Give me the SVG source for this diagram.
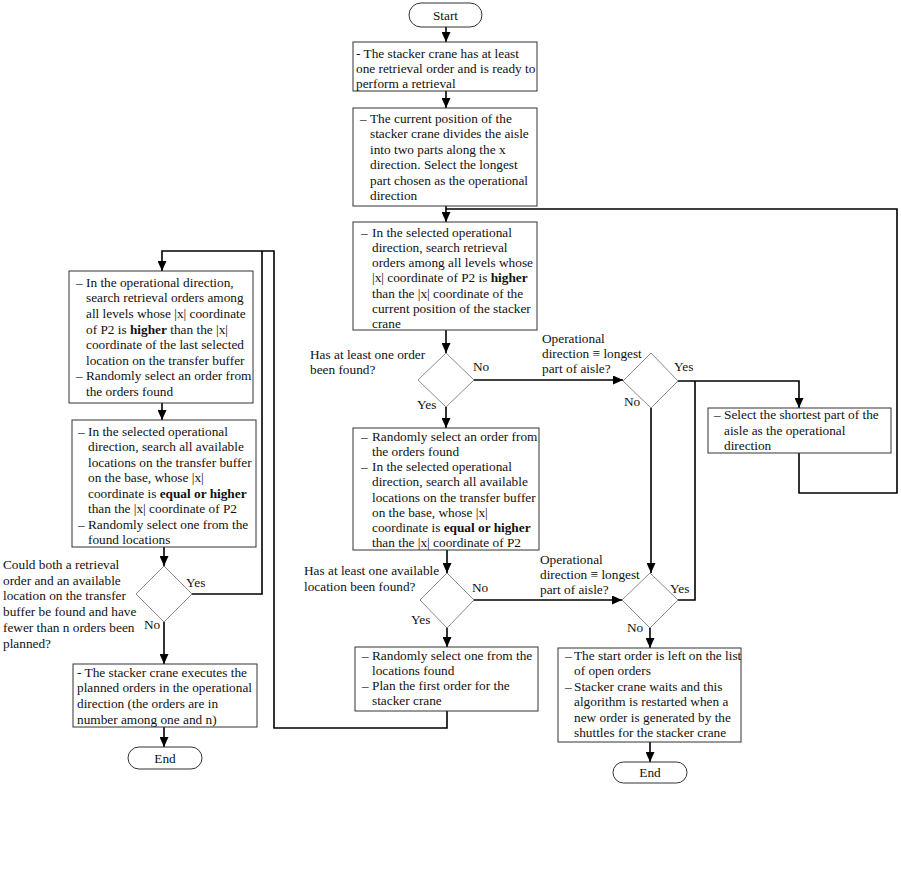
<svg xmlns="http://www.w3.org/2000/svg" width="901" height="887" viewBox="0 0 901 887">
<defs>
<marker id="arr" markerWidth="10" markerHeight="9" refX="10" refY="4.5" orient="auto" markerUnits="userSpaceOnUse">
<path d="M0,0 L10,4.5 L0,9 z" fill="#000"/>
</marker>
</defs>
<style>
text{font-family:"Liberation Serif","Times New Roman",serif;font-size:13.3px;fill:#111}
.box{fill:#fff;stroke:#333;stroke-width:1}
.dia{fill:#fff;stroke:#8a8a8a;stroke-width:1}
.term{fill:#fff;stroke:#333;stroke-width:1}
.c{fill:none;stroke:#000;stroke-width:1.6}
.a{marker-end:url(#arr)}
.mid{text-anchor:middle}
.b{font-weight:bold}
</style>
<rect width="901" height="887" fill="#fff"/>

<g id="connectors">
<path class="c a" d="M446,27 V42"/>
<path class="c a" d="M446,91 V108"/>
<path class="c a" d="M446,206 V222"/>
<path class="c" d="M799,453 V493 H897 V209 H446"/>
<path class="c a" d="M446,330 V353"/>
<path class="c a" d="M474,380 H623"/>
<path class="c a" d="M446,407 V428"/>
<path class="c a" d="M678,381 H799 V408"/>
<path class="c a" d="M651,408 V573"/>
<path class="c a" d="M447,550 V573"/>
<path class="c a" d="M474,600 H622"/>
<path class="c" d="M678,600 H695 V381"/>
<path class="c a" d="M447,628 V647"/>
<path class="c a" d="M650,628 V648"/>
<path class="c a" d="M650,742 V762"/>
<path class="c a" d="M447,711 V728 H274 V251 H162 V271"/>
<path class="c" d="M192,594 H262 V251"/>
<path class="c a" d="M162,403 V420"/>
<path class="c a" d="M164,547 V566"/>
<path class="c a" d="M164,622 V664"/>
<path class="c a" d="M164,727 V747"/>
</g>

<g id="start">
<rect class="term" x="409" y="3" width="73" height="24" rx="12"/>
<text class="mid" x="445.5" y="19.5">Start</text>
</g>

<g id="box1">
<rect class="box" x="353" y="42" width="184" height="49"/>
<text x="356" y="57.5">- The stacker crane has at least</text>
<text x="356" y="72.5">one retrieval order and is ready to</text>
<text x="356" y="87.5">perform a retrieval</text>
</g>

<g id="box2">
<rect class="box" x="353" y="108" width="184" height="98"/>
<text x="360" y="122.5">–</text>
<text x="370" y="122.5">The current position of the</text>
<text x="370" y="138">stacker crane divides the aisle</text>
<text x="370" y="153.5">into two parts along the x</text>
<text x="370" y="169">direction. Select the longest</text>
<text x="370" y="184.5">part chosen as the operational</text>
<text x="370" y="200">direction</text>
</g>

<g id="box3">
<rect class="box" x="353" y="222" width="184" height="108"/>
<text x="361" y="236.5">–</text>
<text x="372" y="236.5">In the selected operational</text>
<text x="372" y="251.8">direction, search retrieval</text>
<text x="372" y="267.1">orders among all levels whose</text>
<text x="372" y="282.4">|x|  coordinate of P2 is <tspan class="b">higher</tspan></text>
<text x="372" y="297.7">than the |x|  coordinate of the</text>
<text x="372" y="313">current position of the stacker</text>
<text x="372" y="328">crane</text>
</g>

<g id="dec1">
<polygon class="dia" points="446,353 474,380 446,407 418,380"/>
<text x="310" y="359">Has at least one order</text>
<text x="310" y="374">been found?</text>
<text x="473" y="371">No</text>
<text x="417" y="409">Yes</text>
</g>

<g id="dec2">
<polygon class="dia" points="651,353 678,381 651,408 623,381"/>
<text x="542" y="343">Operational</text>
<text x="542" y="358">direction ≡ longest</text>
<text x="542" y="373">part of aisle?</text>
<text x="674" y="371">Yes</text>
<text x="624" y="406">No</text>
</g>

<g id="shortest">
<rect class="box" x="708" y="408" width="183" height="45"/>
<text x="714" y="419">–</text>
<text x="724" y="419">Select the shortest part of the</text>
<text x="724" y="434.5">aisle as the operational</text>
<text x="724" y="450">direction</text>
</g>

<g id="box4">
<rect class="box" x="353" y="428" width="186" height="122"/>
<text x="361" y="440.5">–</text>
<text x="372" y="440.5">Randomly select an order from</text>
<text x="372" y="455.8">the orders found</text>
<text x="361" y="471.1">–</text>
<text x="372" y="471.1">In the selected operational</text>
<text x="372" y="486.4">direction, search all available</text>
<text x="372" y="501.7">locations on the transfer buffer</text>
<text x="372" y="517">on the base, whose |x|</text>
<text x="372" y="532.3">coordinate is <tspan class="b">equal or higher</tspan></text>
<text x="372" y="547.3">than the |x|  coordinate of P2</text>
</g>

<g id="dec3">
<polygon class="dia" points="447,573 474,600 447,628 420,600"/>
<text x="304" y="575">Has at least one available</text>
<text x="304" y="591">location been found?</text>
<text x="472" y="592">No</text>
<text x="411" y="624">Yes</text>
</g>

<g id="dec4">
<polygon class="dia" points="650,573 678,600 650,628 622,600"/>
<text x="540" y="564">Operational</text>
<text x="540" y="579">direction ≡ longest</text>
<text x="540" y="594">part of aisle?</text>
<text x="670" y="593">Yes</text>
<text x="627" y="632">No</text>
</g>

<g id="box5">
<rect class="box" x="355" y="647" width="183" height="64"/>
<text x="362" y="659.5">–</text>
<text x="372" y="659.5">Randomly select one from the</text>
<text x="372" y="674.8">locations found</text>
<text x="362" y="690.1">–</text>
<text x="372" y="690.1">Plan the first order for the</text>
<text x="372" y="705.4">stacker crane</text>
</g>

<g id="boxD">
<rect class="box" x="558" y="648" width="183" height="94"/>
<text x="565" y="660">–</text>
<text x="574" y="660">The start order is left on the list</text>
<text x="574" y="675.4">of open orders</text>
<text x="565" y="690.8">–</text>
<text x="574" y="690.8">Stacker crane waits and this</text>
<text x="574" y="706.2">algorithm is restarted when a</text>
<text x="574" y="721.6">new order is generated by the</text>
<text x="574" y="737">shuttles for the stacker crane</text>
</g>

<g id="end2">
<rect class="term" x="613" y="762" width="74" height="21" rx="10.5"/>
<text class="mid" x="650" y="777">End</text>
</g>

<g id="boxA">
<rect class="box" x="69" y="271" width="184" height="132"/>
<text x="76" y="286.7">–</text>
<text x="86" y="286.7">In the operational direction,</text>
<text x="86" y="302.3">search retrieval orders among</text>
<text x="86" y="317.9">all levels whose |x|  coordinate</text>
<text x="86" y="333.5">of P2 is <tspan class="b">higher</tspan> than the |x|</text>
<text x="86" y="349.1">coordinate of the last selected</text>
<text x="86" y="364.7">location on the transfer buffer</text>
<text x="76" y="380.3">–</text>
<text x="86" y="380.3">Randomly select an order from</text>
<text x="86" y="395.9">the orders found</text>
</g>

<g id="boxB">
<rect class="box" x="72" y="420" width="184" height="127"/>
<text x="78" y="435.7">–</text>
<text x="88" y="435.7">In the selected operational</text>
<text x="88" y="451.2">direction, search all available</text>
<text x="88" y="466.7">locations on the transfer buffer</text>
<text x="88" y="482.2">on the base, whose |x|</text>
<text x="88" y="497.7">coordinate is <tspan class="b">equal or higher</tspan></text>
<text x="88" y="513.2">than the |x|  coordinate of P2</text>
<text x="78" y="528.7">–</text>
<text x="88" y="528.7">Randomly select one from the</text>
<text x="88" y="544.2">found locations</text>
</g>

<g id="decL">
<polygon class="dia" points="164,566 192,594 164,622 136,594"/>
<text x="3" y="569">Could both a retrieval</text>
<text x="3" y="584.7">order and an available</text>
<text x="3" y="600.4">location on the transfer</text>
<text x="3" y="616.1">buffer be found and have</text>
<text x="3" y="631.8">fewer than n orders been</text>
<text x="3" y="647.5">planned?</text>
<text x="186" y="587">Yes</text>
<text x="144" y="629">No</text>
</g>

<g id="boxC">
<rect class="box" x="73" y="664" width="184" height="63"/>
<text x="77" y="676.7">- The  stacker crane executes the</text>
<text x="77" y="692.3">planned orders in the operational</text>
<text x="77" y="708">direction (the orders are in</text>
<text x="77" y="723.5">number among one and n)</text>
</g>

<g id="end1">
<rect class="term" x="128" y="747" width="74" height="22" rx="11"/>
<text class="mid" x="165" y="762.5">End</text>
</g>
</svg>
